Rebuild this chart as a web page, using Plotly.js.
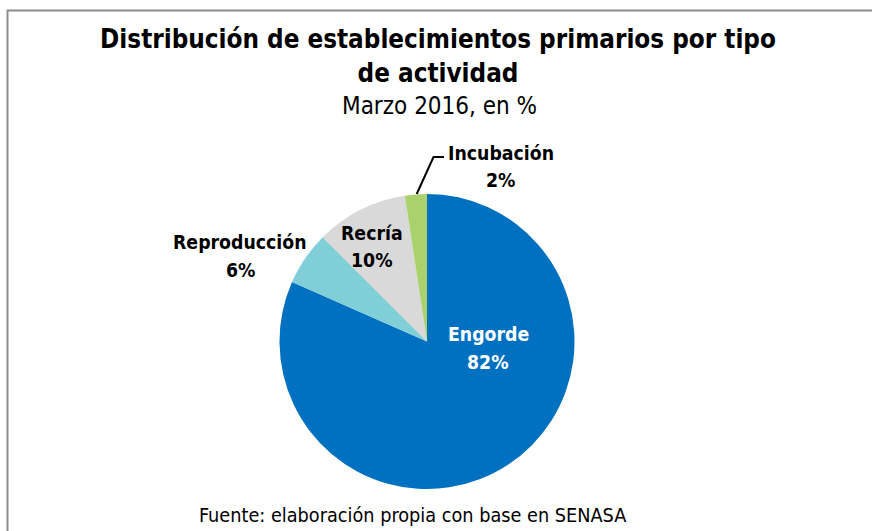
<!DOCTYPE html>
<html>
<head>
<meta charset="utf-8">
<script src="https://cdn.plot.ly/plotly-3.0.1.min.js"></script>
<style>html,body{margin:0;padding:0;background:#fff;}#chart{width:872px;height:531px;}</style>
</head>
<body>
<div id="chart"></div>
<script>
// ---- data ----
const categories = ["Engorde", "Reproducción", "Recría", "Incubación"];
const shares = [81.6, 5.9, 10.1, 2.4];
const sliceColors = ["#0070C0", "#80CFD8", "#D9D9D9", "#A9D26C"];
const titleText = "Distribución de establecimientos primarios por tipo<br>de actividad";
const subtitleText = "Marzo 2016, en %";
const sourceText = "Fuente: elaboración propia con base en SENASA";

// ---- layout helpers (pixel -> paper) ----
const W = 872, H = 531;
const px = x => x / W;
const py = y => 1 - y / H;
const FONT = "'Liberation Sans Narrow', 'DejaVu Sans Condensed', 'Liberation Sans', sans-serif";

// label positions (pixel centres): [name, percent]
const labelPos = [
  [[488, 334], [488, 362]],
  [[240, 242], [240, 270]],
  [[372, 233], [372, 260]],
  [[501, 153], [500, 180]]
];
const labelColor = ["#ffffff", "#000000", "#000000", "#000000"];

const total = shares.reduce((a, b) => a + b, 0);
const annotations = [];
categories.forEach((c, i) => {
  const pct = Math.round(shares[i] / total * 100) + "%";
  annotations.push({text: "<b>" + c + "</b>", x: px(labelPos[i][0][0]), y: py(labelPos[i][0][1]),
    xref: "paper", yref: "paper", xanchor: "center", yanchor: "middle", showarrow: false,
    font: {family: FONT, size: 19.3, color: labelColor[i]}});
  annotations.push({text: "<b>" + pct + "</b>", x: px(labelPos[i][1][0]), y: py(labelPos[i][1][1]),
    xref: "paper", yref: "paper", xanchor: "center", yanchor: "middle", showarrow: false,
    font: {family: FONT, size: 19.3, color: labelColor[i]}});
});
annotations.push({text: subtitleText, x: px(439), y: py(106), xref: "paper", yref: "paper",
  xanchor: "center", yanchor: "middle", showarrow: false, font: {family: FONT, size: 24, color: "#000"}});
annotations.push({text: sourceText, x: px(412), y: py(515), xref: "paper", yref: "paper",
  xanchor: "center", yanchor: "middle", showarrow: false, font: {family: FONT, size: 19.7, color: "#000"}});

const trace = {
  type: "pie",
  labels: categories,
  values: shares,
  sort: false,
  direction: "clockwise",
  rotation: 0,
  marker: {colors: sliceColors, line: {width: 0}},
  textinfo: "none",
  hoverinfo: "label+percent",
  showlegend: false,
  domain: {x: [px(279.5), px(574.5)], y: [py(489), py(194)]}
};

const layout = {
  width: W, height: H,
  margin: {l: 0, r: 0, t: 0, b: 0},
  paper_bgcolor: "#ffffff",
  title: {text: "<b>" + titleText + "</b>", x: px(438), xanchor: "center", y: py(48), yanchor: "top",
    yref: "container", font: {family: FONT, size: 25.8, color: "#000"}},
  showlegend: false,
  annotations: annotations,
  shapes: [
    {type: "path", xref: "paper", yref: "paper",
     path: "M " + px(7.5) + " " + py(531) + " L " + px(7.5) + " " + py(10.5) + " L " + px(872) + " " + py(10.5),
     line: {color: "#8C8C8C", width: 2}},
    {type: "path", xref: "paper", yref: "paper",
     path: "M " + px(416.7) + " " + py(194) + " L " + px(433.5) + " " + py(157) + " L " + px(444) + " " + py(157),
     line: {color: "#000000", width: 2}}
  ]
};

Plotly.newPlot("chart", [trace], layout, {displayModeBar: false, staticPlot: true});
</script>
</body>
</html>
